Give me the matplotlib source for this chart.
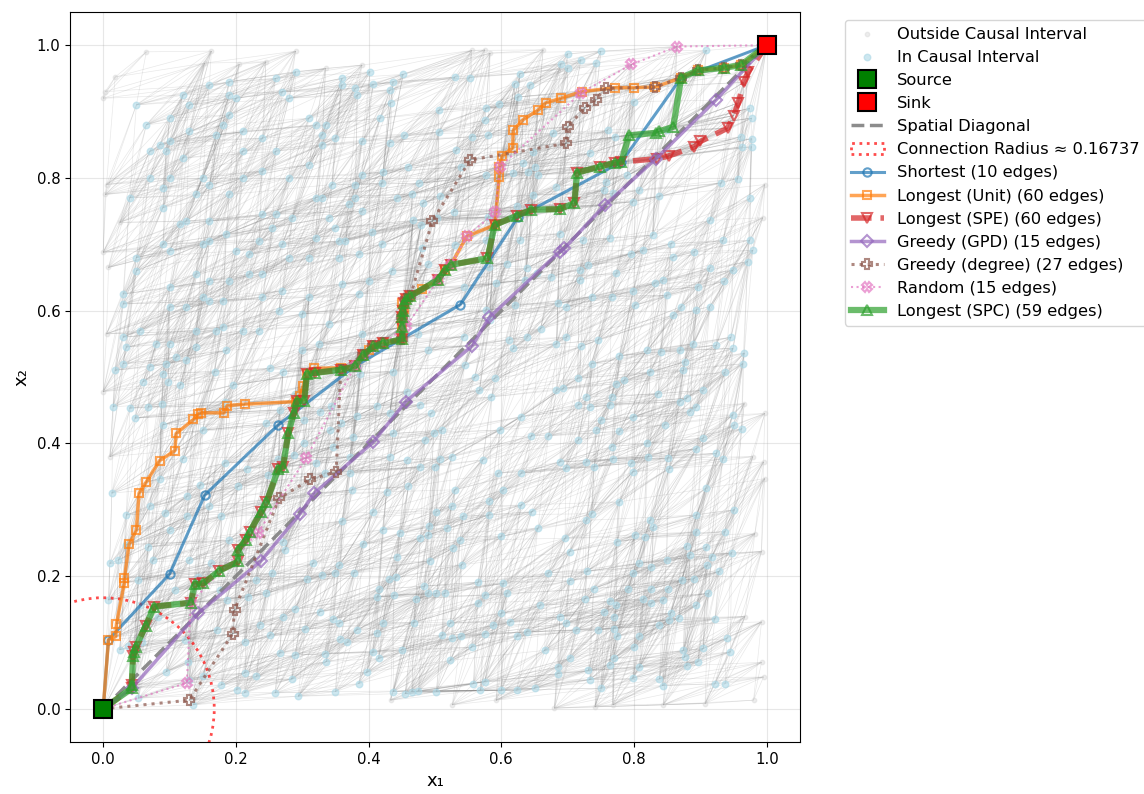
import numpy as np
import matplotlib
matplotlib.use("Agg")
import matplotlib.pyplot as plt
from matplotlib.collections import LineCollection
from matplotlib.patches import Circle

RADIUS = 0.16737
MAX_BETWEEN = 5   # a pair gets an edge when at most this many points lie between them

# background points, region by region
pts_upper_left = [
    (0.05, 0.91), (0.065, 0.88), (0.12, 0.925), (0.13, 0.91), (0.16, 0.94), (0.19, 0.945),
    (0.19, 0.925), (0.2, 0.92), (0.26, 0.95), (0.27, 0.93), (0.29, 0.96), (0.28, 0.92),
    (0.36, 0.95), (0.36, 0.94), (0.38, 0.935), (0.383, 0.925),
    (0.10, 0.89), (0.13, 0.87), (0.10, 0.855), (0.085, 0.85), (0.07, 0.84), (0.095, 0.84),
    (0.11, 0.855), (0.12, 0.83), (0.17, 0.865), (0.18, 0.88), (0.19, 0.895), (0.21, 0.87),
    (0.21, 0.84), (0.24, 0.86), (0.26, 0.84), (0.31, 0.89), (0.32, 0.88), (0.335, 0.88),
    (0.33, 0.865), (0.35, 0.86), (0.33, 0.85), (0.39, 0.855),
    (0.07, 0.80), (0.10, 0.80), (0.09, 0.785), (0.04, 0.77), (0.09, 0.755), (0.14, 0.775),
    (0.15, 0.80), (0.16, 0.79), (0.19, 0.775), (0.21, 0.80), (0.24, 0.81), (0.28, 0.80),
    (0.24, 0.745), (0.26, 0.745), (0.31, 0.82), (0.33, 0.77), (0.32, 0.77), (0.345, 0.79),
    (0.38, 0.79), (0.39, 0.805), (0.39, 0.75), (0.38, 0.77), (0.37, 0.76),
    (0.115, 0.73), (0.125, 0.735), (0.16, 0.735), (0.185, 0.715), (0.16, 0.705), (0.15, 0.70),
    (0.09, 0.70), (0.10, 0.69), (0.05, 0.68), (0.20, 0.69), (0.22, 0.685), (0.235, 0.705),
    (0.255, 0.725), (0.285, 0.74), (0.27, 0.70), (0.28, 0.68), (0.32, 0.71), (0.31, 0.68),
    (0.34, 0.74), (0.35, 0.725), (0.355, 0.705), (0.365, 0.705), (0.355, 0.68), (0.385, 0.685),
    (0.405, 0.718), (0.42, 0.70), (0.48, 0.695), (0.49, 0.67), (0.435, 0.66),
    (0.05, 0.66), (0.10, 0.635), (0.14, 0.655), (0.16, 0.645), (0.19, 0.645), (0.22, 0.655),
    (0.24, 0.655), (0.24, 0.62), (0.27, 0.63), (0.31, 0.62), (0.36, 0.64), (0.385, 0.625),
    (0.40, 0.645), (0.03, 0.625), (0.03, 0.61), (0.10, 0.605), (0.125, 0.605), (0.15, 0.62),
    (0.16, 0.615), (0.18, 0.615), (0.265, 0.60), (0.30, 0.595), (0.34, 0.58), (0.39, 0.565),
    (0.475, 0.565), (0.03, 0.56), (0.055, 0.57), (0.08, 0.55), (0.10, 0.55), (0.11, 0.53),
    (0.14, 0.57), (0.17, 0.57), (0.18, 0.575), (0.21, 0.57), (0.235, 0.57), (0.14, 0.545),
    (0.125, 0.525), (0.185, 0.54), (0.30, 0.54), (0.325, 0.55), (0.39, 0.54), (0.035, 0.545),
    (0.03, 0.52), (0.07, 0.515), (0.095, 0.52), (0.49, 0.54),
]

pts_top_mid = [
    (0.402, 0.96), (0.407, 0.941), (0.437, 0.945), (0.452, 0.956), (0.432, 0.932), (0.433, 0.913),
    (0.417, 0.89), (0.422, 0.882), (0.432, 0.853), (0.454, 0.864), (0.506, 0.902), (0.506, 0.869),
    (0.53, 0.952), (0.552, 0.951), (0.555, 0.862), (0.532, 0.842), (0.539, 0.817), (0.46, 0.817),
    (0.422, 0.809), (0.42, 0.792), (0.442, 0.769), (0.466, 0.776), (0.476, 0.792), (0.482, 0.762),
    (0.508, 0.772), (0.467, 0.736), (0.479, 0.729), (0.409, 0.719),
]

pts_upper_right = [
    (0.7, 0.987), (0.72, 0.978), (0.75, 0.991), (0.743, 0.973), (0.7, 0.965), (0.69, 0.972),
    (0.909, 0.992), (0.628, 0.957), (0.62, 0.942), (0.643, 0.94), (0.625, 0.922), (0.597, 0.912),
    (0.577, 0.905), (0.575, 0.887), (0.567, 0.89), (0.58, 0.864), (0.633, 0.822), (0.65, 0.817),
    (0.618, 0.807), (0.627, 0.807), (0.577, 0.804), (0.733, 0.837), (0.76, 0.872), (0.771, 0.862),
    (0.8, 0.915), (0.849, 0.872), (0.678, 0.867), (0.758, 0.794), (0.754, 0.782), (0.808, 0.782),
    (0.813, 0.774), (0.838, 0.772), (0.79, 0.804), (0.931, 0.792), (0.924, 0.794), (0.974, 0.769),
    (0.974, 0.905), (0.977, 0.89), (0.961, 0.862), (0.977, 0.859), (0.963, 0.847), (0.977, 0.847),
    (0.914, 0.736), (0.956, 0.799), (0.648, 0.774), (0.64, 0.809), (0.688, 0.716), (0.723, 0.706),
    (0.73, 0.669), (0.763, 0.709), (0.796, 0.686), (0.813, 0.691), (0.828, 0.714), (0.856, 0.701),
    (0.859, 0.681), (0.831, 0.641), (0.891, 0.689), (0.934, 0.706), (0.926, 0.709), (0.936, 0.644),
    (0.949, 0.661), (0.971, 0.674), (0.974, 0.706), (0.979, 0.691), (0.914, 0.664), (0.896, 0.636),
    (0.849, 0.623), (0.798, 0.629), (0.773, 0.656), (0.718, 0.661), (0.675, 0.651), (0.653, 0.656),
    (0.638, 0.664), (0.608, 0.671), (0.635, 0.646), (0.718, 0.646), (0.736, 0.621), (0.766, 0.621),
    (0.843, 0.646), (0.592, 0.641), (0.582, 0.666), (0.62, 0.608), (0.685, 0.611), (0.698, 0.606),
    (0.801, 0.608), (0.871, 0.606), (0.894, 0.601), (0.914, 0.606), (0.859, 0.593), (0.577, 0.601),
    (0.655, 0.804), (0.648, 0.839), (0.638, 0.826), (0.623, 0.757), (0.64, 0.757), (0.58, 0.741),
    (0.59, 0.731), (0.628, 0.706), (0.577, 0.706), (0.683, 0.787), (0.798, 0.764), (0.768, 0.777),
    (0.754, 0.8),
]

pts_mid = [
    (0.387, 0.505), (0.437, 0.508), (0.382, 0.441), (0.412, 0.456), (0.432, 0.446), (0.458, 0.478),
    (0.477, 0.458), (0.494, 0.445), (0.498, 0.415), (0.485, 0.405), (0.437, 0.415), (0.432, 0.38),
    (0.458, 0.375), (0.477, 0.365), (0.377, 0.41), (0.372, 0.38), (0.372, 0.355),
    (0.639, 0.561), (0.659, 0.573), (0.543, 0.561), (0.583, 0.586), (0.543, 0.636), (0.53, 0.699),
    (0.503, 0.739), (0.528, 0.749),
    (0.289, 0.475), (0.302, 0.435), (0.327, 0.448), (0.344, 0.456), (0.359, 0.43), (0.342, 0.42),
    (0.347, 0.395), (0.32, 0.37), (0.302, 0.4), (0.287, 0.382), (0.334, 0.355),
]

pts_lower_left = [
    (0.018, 0.51), (0.06, 0.493), (0.098, 0.493), (0.116, 0.488), (0.168, 0.508), (0.196, 0.488),
    (0.251, 0.513), (0.271, 0.508), (0.09, 0.505),
    (0.015, 0.455), (0.04, 0.453), (0.068, 0.455), (0.088, 0.46), (0.048, 0.438), (0.09, 0.428),
    (0.15, 0.42), (0.183, 0.463), (0.246, 0.43), (0.266, 0.45), (0.281, 0.475),
    (0.12, 0.377), (0.013, 0.325), (0.085, 0.347), (0.126, 0.32), (0.146, 0.337), (0.183, 0.37),
    (0.203, 0.335), (0.216, 0.362), (0.249, 0.352), (0.264, 0.377),
    (0.035, 0.292), (0.07, 0.305), (0.093, 0.295), (0.126, 0.29), (0.16, 0.305), (0.178, 0.29),
    (0.1, 0.27), (0.19, 0.254), (0.068, 0.244), (0.035, 0.247),
    (0.01, 0.219), (0.023, 0.224), (0.075, 0.224), (0.13, 0.224), (0.163, 0.219), (0.271, 0.252),
    (0.274, 0.24), (0.053, 0.194), (0.108, 0.179), (0.143, 0.199), (0.176, 0.179), (0.231, 0.194),
    (0.254, 0.204), (0.008, 0.164), (0.055, 0.157), (0.083, 0.139), (0.186, 0.164), (0.218, 0.169),
    (0.246, 0.174), (0.271, 0.139),
    (0.025, 0.089), (0.038, 0.094), (0.058, 0.101), (0.123, 0.104), (0.171, 0.119), (0.213, 0.101),
    (0.236, 0.127), (0.251, 0.111), (0.266, 0.084),
    (0.095, 0.056), (0.128, 0.071), (0.13, 0.044), (0.151, 0.049), (0.178, 0.036), (0.201, 0.029),
    (0.213, 0.024), (0.259, 0.024), (0.264, 0.019), (0.231, 0.049), (0.053, 0.016), (0.136, 0.006),
    (0.213, 0.054),
]

pts_bottom_mid = [
    (0.375, 0.33), (0.427, 0.327), (0.46, 0.335), (0.36, 0.283), (0.406, 0.296), (0.421, 0.27),
    (0.447, 0.265), (0.491, 0.275), (0.478, 0.258), (0.49, 0.262), (0.392, 0.249), (0.316, 0.219),
    (0.321, 0.213), (0.356, 0.216), (0.442, 0.229), (0.438, 0.222), (0.492, 0.223), (0.307, 0.195),
    (0.329, 0.201), (0.349, 0.205), (0.378, 0.205), (0.381, 0.199), (0.431, 0.195), (0.441, 0.198),
    (0.432, 0.189), (0.416, 0.18), (0.413, 0.169), (0.438, 0.171), (0.446, 0.166), (0.471, 0.166),
    (0.484, 0.185), (0.49, 0.175), (0.289, 0.15), (0.326, 0.146), (0.347, 0.135), (0.356, 0.129),
    (0.304, 0.12), (0.382, 0.119), (0.421, 0.129), (0.412, 0.114), (0.468, 0.13), (0.357, 0.105),
    (0.368, 0.1), (0.289, 0.081), (0.334, 0.083), (0.406, 0.085), (0.415, 0.076), (0.45, 0.089),
    (0.336, 0.071), (0.397, 0.055), (0.284, 0.045), (0.385, 0.038), (0.35, 0.026), (0.294, 0.019),
    (0.437, 0.026), (0.455, 0.023), (0.465, 0.026), (0.475, 0.027),
]

pts_lower_right = [
    (0.542, 0.558), (0.612, 0.556), (0.618, 0.543), (0.683, 0.55), (0.698, 0.56), (0.746, 0.556),
    (0.72, 0.546), (0.778, 0.532), (0.82, 0.54), (0.84, 0.538), (0.869, 0.54), (0.889, 0.55),
    (0.924, 0.548), (0.946, 0.56), (0.949, 0.543), (0.966, 0.536), (0.964, 0.52), (0.937, 0.507),
    (0.876, 0.523), (0.874, 0.51), (0.824, 0.508), (0.785, 0.495), (0.773, 0.49), (0.736, 0.52),
    (0.715, 0.498), (0.728, 0.47), (0.693, 0.483), (0.683, 0.48), (0.716, 0.458), (0.733, 0.455),
    (0.766, 0.47), (0.763, 0.458), (0.799, 0.44), (0.75, 0.435), (0.743, 0.42), (0.836, 0.475),
    (0.869, 0.463), (0.879, 0.468), (0.904, 0.48), (0.894, 0.455), (0.884, 0.448), (0.846, 0.428),
    (0.949, 0.443), (0.951, 0.428), (0.962, 0.422), (0.904, 0.408), (0.894, 0.392), (0.924, 0.385),
    (0.934, 0.377), (0.819, 0.40), (0.821, 0.38), (0.851, 0.378), (0.853, 0.362), (0.796, 0.37),
    (0.798, 0.357), (0.778, 0.418), (0.766, 0.395), (0.768, 0.377), (0.728, 0.372), (0.74, 0.365),
    (0.716, 0.405), (0.697, 0.363), (0.688, 0.372), (0.671, 0.411), (0.645, 0.411), (0.63, 0.44),
    (0.598, 0.42), (0.6, 0.415), (0.572, 0.375), (0.63, 0.355), (0.595, 0.355), (0.53, 0.33),
    (0.603, 0.33), (0.582, 0.313), (0.63, 0.307), (0.646, 0.297), (0.502, 0.297), (0.525, 0.305),
    (0.542, 0.29), (0.518, 0.272), (0.538, 0.254), (0.527, 0.242), (0.581, 0.292), (0.6, 0.26),
    (0.655, 0.272), (0.696, 0.257), (0.703, 0.237), (0.728, 0.284), (0.736, 0.294), (0.778, 0.312),
    (0.824, 0.284), (0.829, 0.274), (0.801, 0.262), (0.816, 0.259), (0.774, 0.252), (0.894, 0.292),
    (0.908, 0.332), (0.951, 0.3), (0.937, 0.267), (0.894, 0.267), (0.879, 0.245), (0.884, 0.232),
    (0.909, 0.244), (0.917, 0.229), (0.947, 0.235), (0.849, 0.225), (0.826, 0.214), (0.808, 0.219),
    (0.798, 0.204), (0.791, 0.181), (0.826, 0.181), (0.851, 0.181), (0.872, 0.194), (0.89, 0.196),
    (0.912, 0.174), (0.91, 0.216), (0.928, 0.207), (0.894, 0.156), (0.844, 0.164), (0.826, 0.159),
    (0.814, 0.165), (0.773, 0.156), (0.763, 0.162), (0.755, 0.146), (0.726, 0.166), (0.739, 0.181),
    (0.729, 0.207), (0.703, 0.193), (0.688, 0.139), (0.698, 0.129), (0.693, 0.124), (0.713, 0.119),
    (0.746, 0.119), (0.769, 0.121), (0.774, 0.109), (0.757, 0.139), (0.769, 0.139), (0.8, 0.093),
    (0.808, 0.109), (0.838, 0.126), (0.852, 0.134), (0.855, 0.144), (0.867, 0.137), (0.922, 0.136),
    (0.94, 0.106), (0.945, 0.086), (0.904, 0.091), (0.896, 0.071), (0.876, 0.078), (0.874, 0.088),
    (0.879, 0.065), (0.838, 0.045), (0.843, 0.035), (0.922, 0.038), (0.937, 0.038), (0.798, 0.046),
    (0.808, 0.063), (0.769, 0.076), (0.763, 0.066), (0.731, 0.058), (0.733, 0.044), (0.75, 0.031),
    (0.703, 0.076), (0.685, 0.063), (0.685, 0.053), (0.665, 0.088), (0.658, 0.156), (0.638, 0.116),
    (0.623, 0.109), (0.6, 0.144), (0.613, 0.131), (0.588, 0.126), (0.575, 0.113), (0.555, 0.093),
    (0.539, 0.109), (0.525, 0.106), (0.511, 0.111), (0.523, 0.129), (0.523, 0.073), (0.558, 0.038),
    (0.568, 0.028), (0.575, 0.041), (0.6, 0.028), (0.623, 0.028), (0.65, 0.031), (0.502, 0.026),
    (0.565, 0.191), (0.575, 0.171), (0.565, 0.159), (0.603, 0.189), (0.608, 0.174), (0.515, 0.174),
    (0.502, 0.174), (0.671, 0.205), (0.54, 0.217), (0.507, 0.377), (0.5, 0.365), (0.525, 0.38),
    (0.56, 0.5), (0.585, 0.47), (0.567, 0.48), (0.59, 0.498), (0.545, 0.518), (0.51, 0.42),
    (0.497, 0.447),
]

pts_outside = [
    (0.0, 0.92), (0.003, 0.93), (0.018, 0.952), (0.065, 0.99), (0.163, 0.991), (0.153, 0.973),
    (0.205, 0.971), (0.245, 0.975), (0.29, 0.991), (0.335, 0.965), (0.39, 0.97), (0.005, 0.79),
    (0.003, 0.775), (0.025, 0.733), (0.0, 0.688), (0.008, 0.665), (0.005, 0.565), (0.0, 0.478),
    (0.01, 0.38), (0.555, 0.992), (0.575, 0.993), (0.583, 0.988), (0.663, 0.993), (0.997, 0.79),
    (0.994, 0.74), (0.997, 0.445), (0.979, 0.38), (0.995, 0.372), (0.997, 0.347), (0.982, 0.264),
    (0.992, 0.237), (0.967, 0.139), (0.992, 0.131), (0.992, 0.07), (0.995, 0.048), (0.98, 0.013),
    (0.966, 0.46), (0.592, 0.013), (0.68, 0.001), (0.741, 0.003), (0.768, 0.006), (0.844, 0.006),
    (0.907, 0.008), (0.526, 0.006), (0.433, 0.013),
]

# paths (node coordinates)
shortest = [(0, 0), (0.008, 0.104), (0.100, 0.203), (0.153, 0.322), (0.264, 0.428), (0.379, 0.516),
            (0.538, 0.609), (0.625, 0.741), (0.781, 0.824), (0.871, 0.951), (1, 1)]

longest_unit = [
    (0, 0), (0.008, 0.104), (0.019, 0.109), (0.020, 0.128), (0.032, 0.190), (0.032, 0.197),
    (0.039, 0.248), (0.050, 0.269), (0.054, 0.325), (0.065, 0.342), (0.085, 0.374), (0.108, 0.389),
    (0.110, 0.415), (0.136, 0.436), (0.143, 0.444), (0.147, 0.446), (0.182, 0.446), (0.187, 0.457),
    (0.213, 0.459), (0.291, 0.463), (0.296, 0.472), (0.301, 0.486), (0.307, 0.505), (0.317, 0.513),
    (0.358, 0.514), (0.379, 0.516), (0.392, 0.533), (0.400, 0.541), (0.407, 0.546), (0.422, 0.551),
    (0.451, 0.557), (0.450, 0.575), (0.451, 0.591), (0.453, 0.603), (0.451, 0.612), (0.457, 0.617),
    (0.463, 0.622), (0.480, 0.633), (0.504, 0.646), (0.515, 0.661), (0.524, 0.669), (0.548, 0.712),
    (0.590, 0.729), (0.597, 0.802), (0.597, 0.817), (0.601, 0.833), (0.617, 0.845), (0.618, 0.872),
    (0.633, 0.888), (0.655, 0.902), (0.667, 0.913), (0.690, 0.920), (0.721, 0.930), (0.771, 0.936),
    (0.800, 0.936), (0.832, 0.937), (0.871, 0.951), (0.896, 0.962), (0.936, 0.966), (0.961, 0.970),
    (1, 1),
]

longest_shared = [
    (0, 0), (0.043, 0.031), (0.043, 0.036), (0.045, 0.079), (0.047, 0.086), (0.049, 0.093),
    (0.064, 0.125), (0.077, 0.154), (0.132, 0.160), (0.138, 0.188), (0.151, 0.189), (0.175, 0.208),
    (0.203, 0.222), (0.203, 0.239), (0.215, 0.255), (0.221, 0.267), (0.238, 0.297), (0.246, 0.311),
    (0.264, 0.362), (0.271, 0.365), (0.279, 0.415), (0.287, 0.445), (0.292, 0.464), (0.303, 0.464),
    (0.307, 0.505), (0.319, 0.506), (0.358, 0.511), (0.379, 0.516), (0.392, 0.533), (0.407, 0.546),
    (0.422, 0.551), (0.451, 0.557), (0.451, 0.575), (0.451, 0.591), (0.452, 0.600), (0.453, 0.612),
    (0.457, 0.617), (0.463, 0.622), (0.504, 0.646), (0.515, 0.661), (0.524, 0.669), (0.579, 0.679),
    (0.590, 0.729), (0.623, 0.743), (0.645, 0.752), (0.688, 0.753), (0.710, 0.762), (0.714, 0.808),
    (0.749, 0.817), (0.771, 0.823), (0.781, 0.824),
]
spc_tail = [(0.792, 0.864), (0.833, 0.868), (0.837, 0.870), (0.859, 0.877), (0.871, 0.951),
            (0.896, 0.962), (0.936, 0.966), (0.961, 0.970), (1, 1)]
spe_tail = [(0.835, 0.829), (0.852, 0.833), (0.891, 0.847), (0.900, 0.855), (0.941, 0.875),
            (0.950, 0.894), (0.957, 0.913), (0.965, 0.944), (0.972, 0.960), (1, 1)]

greedy_gpd = [(0, 0), (0.043, 0.031), (0.143, 0.144), (0.238, 0.223), (0.296, 0.293), (0.318, 0.325),
              (0.407, 0.402), (0.456, 0.463), (0.556, 0.547), (0.582, 0.590), (0.688, 0.689),
              (0.695, 0.694), (0.756, 0.759), (0.833, 0.829), (0.923, 0.917), (1, 1)]

greedy_degree = [(0, 0), (0.130, 0.013), (0.195, 0.113), (0.198, 0.149), (0.265, 0.317), (0.312, 0.346),
                 (0.351, 0.357), (0.358, 0.511), (0.392, 0.533), (0.407, 0.546), (0.422, 0.551),
                 (0.451, 0.557), (0.451, 0.591), (0.457, 0.617), (0.463, 0.622), (0.496, 0.735),
                 (0.553, 0.827), (0.697, 0.852), (0.700, 0.877), (0.726, 0.906), (0.742, 0.918),
                 (0.757, 0.935), (0.832, 0.937), (0.871, 0.951), (0.896, 0.962), (0.936, 0.966),
                 (0.961, 0.970), (1, 1)]

random_path = [(0, 0), (0.126, 0.039), (0.132, 0.160), (0.233, 0.265), (0.306, 0.378), (0.379, 0.516),
               (0.457, 0.577), (0.504, 0.646), (0.524, 0.669), (0.548, 0.712), (0.591, 0.748),
               (0.598, 0.817), (0.720, 0.928), (0.796, 0.971), (0.865, 0.998), (1, 1)]

longest_spc = longest_shared + spc_tail
longest_spe = longest_shared + spe_tail


def dedupe(pts, tol=0.01):
    kept = []
    for p in pts:
        if all((p[0] - q[0]) ** 2 + (p[1] - q[1]) ** 2 > tol ** 2 for q in kept):
            kept.append(p)
    return kept


inside = dedupe(pts_upper_left + pts_top_mid + pts_upper_right + pts_mid
                + pts_lower_left + pts_bottom_mid + pts_lower_right)
path_nodes = list(dict.fromkeys(shortest + longest_unit + longest_spc + longest_spe
                                + greedy_gpd + greedy_degree + random_path))
inside_arr = np.array(inside)
outside_arr = np.array(pts_outside)

# causal pairs (both coordinates increase) within the radius, with few points in between
allp = np.array(inside + pts_outside + path_nodes, dtype=float)
px, py = allp[:, 0], allp[:, 1]
C = (px[None, :] > px[:, None]) & (py[None, :] > py[:, None])
Cf = C.astype(np.float32)
n_between = Cf @ Cf
dist = np.hypot(px[None, :] - px[:, None], py[None, :] - py[:, None])
edges = C & (n_between <= MAX_BETWEEN) & (dist <= RADIUS)
ii, jj = np.nonzero(edges)
segs = np.stack([allp[ii], allp[jj]], axis=1)

fig = plt.figure(figsize=(11.44, 7.94), dpi=100)
ax = fig.add_axes([70 / 1144, 52 / 794, 730 / 1144, 730 / 794])

ax.add_collection(LineCollection(segs, colors='gray', linewidths=0.5, alpha=0.18, zorder=1))
h_out = ax.scatter(outside_arr[:, 0], outside_arr[:, 1], s=10, c='lightgray', alpha=0.4,
                   zorder=2, label='Outside Causal Interval')
h_in = ax.scatter(inside_arr[:, 0], inside_arr[:, 1], s=22, c='lightblue', alpha=0.6,
                  zorder=2, label='In Causal Interval')

h_diag, = ax.plot([0, 1], [0, 1], '--', color='gray', lw=2.5, alpha=0.9, zorder=3,
                  label='Spatial Diagonal')
circ = Circle((0, 0), RADIUS, fill=False, linestyle=':', edgecolor='red', lw=2, alpha=0.7,
              zorder=3, label=f'Connection Radius \u2248 {RADIUS:.5f}')
ax.add_patch(circ)


def draw(path, label, color, ls, lw, marker, ms):
    xs, ys = zip(*path)
    line, = ax.plot(xs, ys, linestyle=ls, color=color, lw=lw, alpha=0.7, marker=marker,
                    markersize=ms, markerfacecolor='none', markeredgewidth=1.5, zorder=4,
                    label=f'{label} ({len(path) - 1} edges)')
    return line


h_sp = draw(shortest, 'Shortest', '#1f77b4', '-', 2.2, 'o', 6)
h_lu = draw(longest_unit, 'Longest (Unit)', '#ff7f0e', '-', 2.5, 's', 6)
h_spe = draw(longest_spe, 'Longest (SPE)', '#d62728', '--', 4, 'v', 7)
h_gpd = draw(greedy_gpd, 'Greedy (GPD)', '#9467bd', '-', 2.5, 'D', 6)
h_deg = draw(greedy_degree, 'Greedy (degree)', '#8c564b', ':', 2.2, 'P', 7)
h_rnd = draw(random_path, 'Random', '#e377c2', ':', 1.5, 'X', 7)
h_spc = draw(longest_spc, 'Longest (SPC)', '#2ca02c', '-', 4.5, '^', 7)

h_src, = ax.plot([0], [0], 's', color='green', markersize=13, markeredgecolor='black',
                 markeredgewidth=1.5, zorder=6, linestyle='none', label='Source')
h_snk, = ax.plot([1], [1], 's', color='red', markersize=13, markeredgecolor='black',
                 markeredgewidth=1.5, zorder=6, linestyle='none', label='Sink')

ax.set_xlim(-0.05, 1.05)
ax.set_ylim(-0.05, 1.05)
ax.set_xticks(np.arange(0, 1.01, 0.2))
ax.set_yticks(np.arange(0, 1.01, 0.2))
ax.tick_params(labelsize=10.7)
ax.grid(True, alpha=0.3)
ax.set_axisbelow(True)
ax.set_xlabel('x\u2081', fontsize=13)
ax.set_ylabel('x\u2082', fontsize=13)

handles = [h_out, h_in, h_src, h_snk, h_diag, circ, h_sp, h_lu, h_spe, h_gpd, h_deg, h_rnd, h_spc]
ax.legend(handles=handles, loc='upper left', bbox_to_anchor=(1.05, 1), fontsize=11.7)

fig.savefig('out.png', dpi=100)
